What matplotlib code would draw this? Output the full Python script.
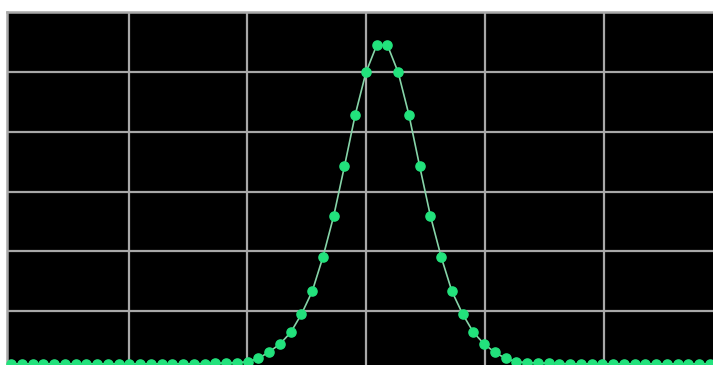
import numpy as np
import matplotlib
matplotlib.use("Agg")
import matplotlib.pyplot as plt

# Sample index and measured amplitude for each point of the spectrum trace
sample_index = list(range(66))
amplitude = (
    [1.2] * 18
    + [1.25, 1.3, 1.35, 1.4, 1.55, 2.1, 3.2, 4.5, 6.45, 9.5, 13.3, 19.05,
       25.9, 34.2, 42.8, 49.9, 54.45,
       54.45, 49.9, 42.8, 34.2, 25.9, 19.05, 13.3, 9.5, 6.45, 4.5, 3.1,
       2.1, 1.55, 1.4, 1.35, 1.3, 1.25]
    + [1.2] * 14
)

W, H = 713, 365
fig = plt.figure(figsize=(W / 100, H / 100), dpi=100, facecolor="white")

# Plot area: starts near the top-left corner and runs past the right and bottom edges
left_px, top_px, bottom_px = 7, 12, 371
width_px = W - left_px + 6
ax = fig.add_axes([left_px / W, (H - bottom_px) / H,
                   width_px / W, (bottom_px - top_px) / H])
ax.set_facecolor("black")

# Vertical grid every ~11 samples, horizontal grid every 10 amplitude units
x_start = -0.39
ax.set_xticks(10.93 + 11.045 * np.arange(0, 6))
ax.set_yticks(np.arange(0, 61, 10))
ax.set_xlim(x_start, x_start + width_px / 10.75)
ax.set_ylim(0, 60)
ax.tick_params(length=0, labelbottom=False, labelleft=False)
ax.grid(True, color="#a8a8a8", linewidth=1.6)
ax.set_axisbelow(True)

for side in ("right", "bottom"):
    ax.spines[side].set_visible(False)
for side in ("top", "left"):
    ax.spines[side].set_color("#a8a8a8")
    ax.spines[side].set_linewidth(1.8)

ax.plot(sample_index, amplitude, color="#86d4a8", linewidth=1.2, zorder=3)
ax.plot(sample_index, amplitude, linestyle="none", marker="o",
        markersize=6.6, markerfacecolor="#22e27c", markeredgecolor="#22e27c",
        zorder=4, clip_on=False)

fig.savefig("out.png", dpi=100, facecolor="white")
